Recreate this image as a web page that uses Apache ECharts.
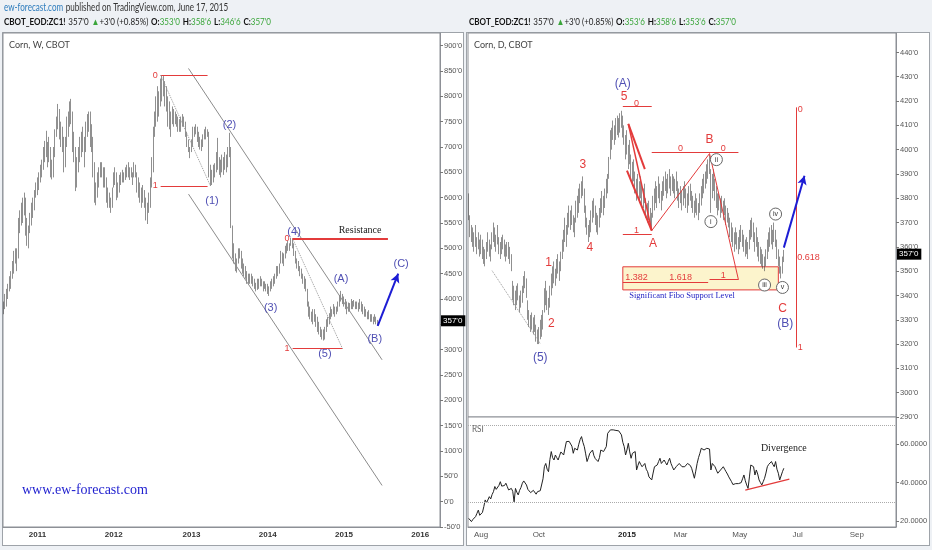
<!DOCTYPE html>
<html><head><meta charset="utf-8">
<script src="https://cdn.jsdelivr.net/npm/echarts/dist/echarts.min.js"></script>
<style>
html,body{margin:0;padding:0;background:#eef1f5;}
#wrap{position:relative;width:932px;height:550px;overflow:hidden;background:#eef1f5;}
.panel{position:absolute;background:#fff;border:1px solid #9ea3a9;box-sizing:border-box;}
#chart{position:absolute;left:0;top:0;width:932px;height:550px;}
</style></head>
<body><div id="wrap">
<div class="panel" style="left:2px;top:32px;width:462px;height:514px"></div>
<div class="panel" style="left:466px;top:32px;width:464px;height:514px"></div>
<div id="chart"></div></div>
<script>
// ---------- weekly chart (left) ----------
const weeklyStart = '2010-07-26';
const weeklyEnd = '2016-04-04';
const weeklyTickYears = ['2011','2012','2013','2014','2015','2016'];
const weeklyLow = [
370,380,385,400,415,420,440,450,470,455,
480,530,545,550,565,525,505,500,530,545,
560,575,600,605,615,630,640,655,670,680,
660,670,640,636,640,680,720,735,715,700,
690,650,660,700,720,740,745,690,670,613,
620,650,670,680,690,660,690,720,730,700,
690,640,590,585,600,620,640,640,620,620,
590,580,580,570,580,620,625,595,600,610,
625,630,630,635,640,640,635,640,625,640,
640,610,600,590,580,590,580,555,548,570,
580,620,650,720,740,750,760,780,790,800,
780,770,740,735,720,745,740,745,740,730,
730,730,740,740,720,700,690,678,690,700,
720,725,710,700,695,692,700,715,715,720,
640,623,625,630,640,650,655,645,640,650,
645,655,650,660,680,540,480,470,455,452,
470,480,460,450,445,440,430,430,430,430,
425,420,415,418,420,425,425,415,420,415,
410,406,415,420,425,430,440,445,450,470,
470,465,480,490,495,495,505,500,485,470,
460,455,445,440,430,420,415,385,365,360,
355,350,355,345,335,330,325,320,318,320,
335,345,350,360,365,370,365,370,375,385,
395,390,385,380,370,375,375,380,380,385,
380,380,375,380,375,370,365,365,360,360,
355,355,350,355,350,347];
const weeklyHigh = [
395,410,420,430,445,455,475,495,500,500,
560,575,590,600,610,600,560,545,570,590,
600,615,630,640,650,665,675,700,712,732,
710,720,700,675,700,735,760,785,775,750,
740,720,720,760,770,790,795,770,730,700,
680,700,720,730,740,720,750,765,770,770,
745,720,670,630,650,660,670,670,660,660,
640,620,610,600,620,650,660,650,630,645,
650,655,650,660,665,670,660,660,650,670,
665,650,640,630,620,625,615,600,590,610,
640,680,740,770,800,820,810,835,842,840,
830,820,800,790,770,780,775,770,765,760,
755,760,765,760,750,730,715,700,715,740,
740,745,740,730,720,715,725,735,740,735,
730,665,655,665,668,690,718,680,675,685,
680,690,685,700,728,700,545,510,490,480,
500,500,495,480,470,465,455,450,450,450,
445,440,432,440,440,445,440,435,435,430,
430,425,435,440,445,450,465,465,470,495,
492,490,505,510,515,510,521,519,510,495,
480,475,465,460,450,445,440,420,395,385,
375,380,380,370,365,355,345,340,340,345,
360,365,372,385,380,390,385,385,395,408,
416,410,405,400,395,393,392,400,396,398,
395,395,393,400,395,390,385,380,375,378,
370,370,365,370,365,358.75];
// wave labels on weekly chart: [text, week index, price]
const weeklyWaveLabels = [['(1)',142,594],['(2)',154,744],['(3)',182,383],['(4)',198,533],['(5)',219,291],['(A)',230,440],['(B)',253,321],['(C)',271,469]];

// ---------- daily chart (right) ----------
const dailyStart = '2014-07-21';
const dailyEnd = '2015-10-12';
const dailyHolidays = ['2014-09-01','2014-11-27','2014-12-25','2015-01-01','2015-01-19','2015-02-16','2015-04-03','2015-05-25','2015-07-03','2015-09-07'];
const dailyTickMonths = ['2014-08','2014-10','2015-01','2015-03','2015-05','2015-07','2015-09'];
const monthNames = ['Jan','Feb','Mar','Apr','May','Jun','Jul','Aug','Sep','Oct','Nov','Dec'];
const dailyLow = [
371,364,362,360,358,360,357,359,356,357,
355,353,352,355,358,356,354,359,362,360,
358,361,357,355,357,359,356,354,356,355,
353,350,338,336,334,336,338,333,335,337,
341,343,339,330,327,325,326,324,325,321,
320,320,322,323,326,333,336,334,332,335,
340,343,345,344,347,349,346,350,355,358,
362,360,365,368,367,369,366,364,370,372,
374,378,380,381,374,368,365,362,364,366,
370,372,369,366,365,368,372,374,373,376,
380,382,388,396,400,404,402,404,406,405,
407,409,405,402,396,398,392,394,388,385,
387,382,379,381,378,380,377,376,378,372,
370,371,369,367,372,375,378,376,380,378,
375,379,381,383,380,382,384,381,383,382,
380,383,379,376,378,375,377,380,376,374,
377,379,376,374,372,374,373,371,374,377,
380,382,384,386,388,390,374,380,383,379,
376,373,375,372,374,371,373,369,370,368,
364,362,360,358,361,359,357,359,362,360,
358,356,357,355,359,363,364,362,358,360,
356,354,353,352,351,350,352,355,358,360,
361,359,362,360,355,352,349,347,349,353.75];
const dailyHigh = [
382,373,369,368,366,369,364,366,363,365,
363,360,359,362,366,363,361,366,370,368,
365,369,364,362,364,365,363,361,362,362,
360,357,346,344,342,344,345,340,342,344,
348,350,347,338,334,332,333,331,332,328,
326,327,330,332,334,343,346,342,339,344,
349,352,354,351,355,357,354,358,363,367,
372,369,374,377,375,377,373,372,379,381,
384,386,387,389,384,377,372,369,371,375,
379,380,377,374,373,376,380,383,381,384,
388,390,397,408,409,412,410,413,414,413,
415,416,414,410,406,408,402,404,398,395,
396,391,388,390,387,389,386,384,386,380,
378,379,376,374,381,384,387,385,389,386,
383,387,389,391,388,390,392,389,390,389,
388,391,387,384,385,383,385,387,384,382,
385,386,383,381,379,382,380,378,382,385,
388,390,391,394,396,398,392,390,392,388,
385,382,382,380,381,379,380,377,376,374,
372,370,368,366,368,366,364,367,369,367,
365,363,364,362,367,371,372,370,366,368,
364,362,360,359,357,356,359,363,366,368,
369,367,370,367,363,359,356,352,356,358.75];
const dailyRSI = [
21.4,20.5,19.7,20.8,21.5,22.3,24.0,25.7,23.0,22.6,
24.5,27.5,31.0,29.5,29.2,32.7,31.5,33.8,35.3,38.0,
36.5,37.0,38.6,40.5,38.2,37.6,38.5,39.7,38.0,36.2,
36.8,37.0,35.5,30.0,37.0,35.0,33.6,36.0,37.5,39.7,
40.9,40.0,38.8,36.5,35.5,34.8,34.4,36.0,35.0,34.0,
35.3,34.6,35.8,36.2,42.0,48.3,50.0,47.0,45.7,52.0,
56.2,53.0,51.8,54.4,53.0,51.8,54.0,56.0,55.0,54.4,
58.0,61.4,62.3,61.5,62.3,59.0,55.3,57.9,57.5,57.0,
60.0,62.5,64.0,61.0,58.8,55.0,51.0,53.0,55.3,56.0,
57.0,54.0,52.5,51.8,51.0,53.0,57.0,56.5,56.2,57.5,
58.8,65.7,66.5,67.5,67.0,67.5,66.8,67.2,67.8,67.0,
66.6,64.9,61.0,58.8,54.4,57.0,60.5,56.0,52.7,55.3,
56.0,56.2,46.6,49.0,51.0,49.5,48.3,49.0,50.0,47.0,
45.7,43.0,42.0,41.4,45.0,48.3,49.0,49.2,51.0,52.7,
50.0,51.0,51.8,50.5,49.2,51.0,52.7,50.0,48.3,46.6,
47.5,48.5,49.2,50.0,49.0,48.3,48.8,48.3,49.0,50.0,
51.0,49.0,47.5,45.0,42.3,46.0,50.0,53.0,55.3,57.9,
57.0,57.0,57.5,57.9,57.0,57.5,46.6,50.0,51.0,48.3,
46.5,44.9,45.5,46.6,47.5,48.3,47.0,45.7,44.5,43.0,
42.0,40.5,39.0,38.0,39.5,40.5,39.5,38.8,40.0,42.0,
44.0,41.0,38.8,37.0,43.0,49.2,48.5,48.3,44.0,46.6,
44.5,41.4,40.0,38.8,40.5,42.3,45.0,48.3,49.5,50.0,
51.0,49.5,48.3,51.0,47.0,44.9,41.4,40.6,45.7,47.5];
// annotations on daily chart: [text, day index, price]
const dailyRedLabels = [['1',58,353.5],['2',60,328.4],['3',83,393.8],['4',88,359.8],['5',113,421.8],['A',134,361.4],['B',175,404],['C',228,334.4]];
const dailyBlueLabels = [['(A)',112,427],['(5)',52,314.5],['(B)',230,328.3]];
const dailyFibText = [['0',122,419],['1',122,366.6],['0',154,400.4],['0',185,400.4],['1.382',122,347.3],['1.618',154,347.5],['1',185,348.3],['0',241,416.5],['0.618',247,355.6],['1',241,318.5]];
const dailyCircleLabels = [['i',176,370.4],['ii',180,395.9],['iii',215,344.3],['iv',223,373.5],['v',228,343.3]];
const lastPrice = 357;

// ---------- categories ----------
function isoDay(d){return d.toISOString().slice(0,10);}
function weeklyCats(){const out=[];const d=new Date(weeklyStart+'T00:00:00Z');while(isoDay(d)<=weeklyEnd){out.push(isoDay(d));d.setUTCDate(d.getUTCDate()+7);}return out;}
function dailyCats(){const out=[];const d=new Date(dailyStart+'T00:00:00Z');while(isoDay(d)<=dailyEnd){const wd=d.getUTCDay();const s=isoDay(d);if(wd!==0&&wd!==6&&dailyHolidays.indexOf(s)<0)out.push(s);d.setUTCDate(d.getUTCDate()+1);}return out;}
const wCats = weeklyCats();
const dCats = dailyCats();

const RED='#e33b3b', WAVE='#5050b4', ARROW='#1d1dd4', CH='#8c8c8c', AX='#8d9096', LBL='#555';
const SANS="'Liberation Sans', Arial, sans-serif";
const SERIF="'Liberation Serif', 'Times New Roman', serif";
const HDR="Lato, 'Liberation Sans', sans-serif";

function seg(a,b,color,width,type,extra){
  const p0 = Object.assign({coord:a, symbol:'none', lineStyle:{color:color,width:width,type:type||'solid'}}, extra||{});
  return [p0, {coord:b, symbol:'none'}];
}
function arrowSeg(a,b){
  return [{coord:a, symbol:'none', lineStyle:{color:ARROW,width:2,type:'solid'}}, {coord:b, symbol:'arrow', symbolSize:[7,9]}];
}
function fibLabel(t){return {label:{show:true,position:'start',formatter:t,color:RED,fontSize:9,distance:3,fontFamily:SANS}};}
function textPt(t,idx,val,color,size,family,weight){
  return {name:t, coord:[idx,val], symbol:'rect', symbolSize:1, itemStyle:{color:'rgba(0,0,0,0)'},
    label:{show:true, position:'inside', formatter:t, color:color, fontSize:size, fontFamily:family||SANS, fontWeight:weight||'normal'}};
}
function circlePt(t,idx,val){
  return {name:t, coord:[idx,val], symbol:'circle', symbolSize:12, itemStyle:{color:'#fff',borderColor:'#666',borderWidth:1},
    label:{show:true, position:'inside', formatter:t, color:'#333', fontSize:7, fontFamily:SANS}};
}
function priceTag(v){
  return {yAxis:v, lineStyle:{color:'rgba(0,0,0,0)', width:0, type:'solid'}, label:{show:true, position:'end', formatter:v+"'0", backgroundColor:'#000', color:'#fff', padding:[2,3,1,2], fontSize:8, distance:1, fontFamily:SANS}};
}
const candleStyle={color:'#555',color0:'#555',borderColor:'#444',borderColor0:'#444',borderWidth:0.6};

const wCandles = weeklyLow.map((lo,i)=>[lo, weeklyHigh[i], lo, weeklyHigh[i]]);
const dCandles = dailyLow.map((lo,i)=>[lo, dailyHigh[i], lo, dailyHigh[i]]);

const yLabel = {fontSize:7.5, color:LBL, margin:4, fontFamily:SANS};

const option = {
  animation:false,
  backgroundColor:'transparent',
  grid:[
    {left:3, top:33, width:437, height:494, show:true, backgroundColor:'#fff', borderColor:AX, borderWidth:1, containLabel:false, outerBoundsMode:'none'},
    {left:468, top:33, width:428, height:384, show:true, backgroundColor:'#fff', borderColor:AX, borderWidth:1, containLabel:false, outerBoundsMode:'none'},
    {left:468, top:417, width:428, height:110, show:true, backgroundColor:'#fff', borderColor:AX, borderWidth:1, containLabel:false, outerBoundsMode:'none'}
  ],
  xAxis:[
    {type:'category', gridIndex:0, data:wCats, boundaryGap:true,
     axisLine:{show:true, onZero:false, lineStyle:{color:AX}}, axisTick:{show:false}, splitLine:{show:false},
     axisLabel:{show:true, interval:function(i,v){return v.slice(5,7)==='01' && (i===0 || wCats[i-1].slice(0,4)!==v.slice(0,4)) && weeklyTickYears.indexOf(v.slice(0,4))>=0;},
       formatter:function(v){return v.slice(0,4);}, fontSize:8, fontWeight:'bold', color:'#333', margin:4, fontFamily:SANS}},
    {type:'category', gridIndex:1, data:dCats, boundaryGap:true,
     axisLine:{show:false, onZero:false}, axisTick:{show:false}, axisLabel:{show:false}, splitLine:{show:false}},
    {type:'category', gridIndex:2, data:dCats, boundaryGap:true,
     axisLine:{show:true, onZero:false, lineStyle:{color:AX}}, axisTick:{show:false}, splitLine:{show:false},
     axisLabel:{show:true, interval:function(i,v){return dailyTickMonths.indexOf(v.slice(0,7))>=0 && (i===0 || dCats[i-1].slice(0,7)!==v.slice(0,7));},
       formatter:function(v){const m=+v.slice(5,7);return m===1?'{yr|'+v.slice(0,4)+'}':monthNames[m-1];},
       rich:{yr:{fontWeight:'bold', color:'#222', fontSize:8, fontFamily:SANS}},
       fontSize:8, color:LBL, margin:4, fontFamily:SANS}}
  ],
  yAxis:[
    {type:'value', gridIndex:0, position:'right', min:-50, max:925, interval:50,
     axisLine:{show:true, onZero:false, lineStyle:{color:AX}}, axisTick:{show:true, length:3, lineStyle:{color:'#777'}}, splitLine:{show:false},
     axisLabel:Object.assign({formatter:function(v){return v+"'0";}, showMaxLabel:false}, yLabel)},
    {type:'value', gridIndex:1, position:'right', min:290, max:448, interval:10,
     axisLine:{show:true, onZero:false, lineStyle:{color:AX}}, axisTick:{show:true, length:3, lineStyle:{color:'#777'}}, splitLine:{show:false},
     axisLabel:Object.assign({formatter:function(v){return v+"'0";}, showMaxLabel:false}, yLabel)},
    {type:'value', gridIndex:2, position:'right', min:16.9, max:74.2, splitNumber:3,
     axisLine:{show:true, onZero:false, lineStyle:{color:AX}}, axisTick:{show:true, length:3, lineStyle:{color:'#777'}}, splitLine:{show:false},
     axisLabel:Object.assign({formatter:function(v){return v.toFixed(4);}, showMinLabel:false, showMaxLabel:false}, yLabel)}
  ],
  series:[
    {type:'candlestick', name:'Corn W', xAxisIndex:0, yAxisIndex:0, data:wCandles, barWidth:1, itemStyle:candleStyle, z:3,
     markLine:{silent:true, symbol:['none','none'], label:{show:false}, animation:false, data:[
       seg([126,855],[258,280],CH,1),
       seg([126,607],[258,32],CH,1),
       seg([107,842],[139,842],RED,1,'solid',fibLabel('0')),
       seg([107,623],[139,623],RED,1,'solid',fibLabel('1')),
       seg([107,842],[141,623],'#9a9a9a',1,'dotted'),
       seg([197,519],[231,519],RED,1,'solid',fibLabel('0')),
       seg([197,302],[231,302],RED,1,'solid',fibLabel('1')),
       seg([197,519],[231,302],'#9a9a9a',1,'dotted'),
       seg([197,519],[262,519],RED,2),
       arrowSeg([255,347],[269,450]),
       priceTag(lastPrice)
     ]},
     markPoint:{silent:true, animation:false, data:
       weeklyWaveLabels.map(a=>textPt(a[0],a[1],a[2],WAVE,11))
       .concat([textPt('Resistance',243,536,'#222',10,SERIF)])}
    },
    {type:'candlestick', name:'Corn D', xAxisIndex:1, yAxisIndex:1, data:dCandles, barWidth:1, itemStyle:candleStyle, z:3,
     markArea:{silent:true, data:[[{coord:[112,351.8], itemStyle:{color:'#fcf4cc', borderColor:RED, borderWidth:1}},{coord:[225,342.3]}]]},
     markLine:{silent:true, symbol:['none','none'], label:{show:false}, animation:false, data:[
       seg([17,350.2],[52,320.2],'#9a9a9a',1,'dotted'),
       seg([112,417.7],[133,417.7],RED,1),
       seg([112,365.3],[133,365.3],RED,1),
       seg([133,398.9],[196,398.9],RED,1),
       seg([238,417.4],[238,318.6],RED,1),
       seg([112,345.4],[174,345.4],RED,1),
       seg([175,346.5],[196,346.5],RED,1),
       seg([133,366.7],[175,398.4],RED,1),
       seg([175,398.4],[196,346.5],RED,1),
       seg([116,410.6],[128,392],RED,2),
       seg([115,391.4],[133,366.7],RED,2),
       seg([116,410.6],[133,366.7],RED,1.5),
       arrowSeg([229,359.7],[244,389.3]),
       priceTag(lastPrice)
     ]},
     markPoint:{silent:true, animation:false, data:
       dailyRedLabels.map(a=>textPt(a[0],a[1],a[2],RED,12))
       .concat(dailyBlueLabels.map(a=>textPt(a[0],a[1],a[2],WAVE,12)))
       .concat(dailyFibText.map(a=>textPt(a[0],a[1],a[2],RED,9)))
       .concat(dailyCircleLabels.map(a=>circlePt(a[0],a[1],a[2])))
       .concat([textPt('Significant Fibo Support Level',155,339.9,'#2424c4',8.5,SERIF)])}
    },
    {type:'line', name:'RSI', xAxisIndex:2, yAxisIndex:2, data:dailyRSI, symbol:'none', showSymbol:false,
     lineStyle:{color:'#222', width:1}, itemStyle:{color:'#222'}, z:3,
     markLine:{silent:true, symbol:['none','none'], label:{show:false}, animation:false, data:[
       {yAxis:70, lineStyle:{color:'#aaa', type:'dotted', width:1}},
       {yAxis:30, lineStyle:{color:'#aaa', type:'dotted', width:1}},
       seg([201,36.1],[233,41.8],RED,1.2)
     ]},
     markPoint:{silent:true, animation:false, data:[textPt('Divergence',229,57.8,'#222',10,SERIF)]}
    }
  ],
  graphic:[
    {type:'text', left:4, top:2, scaleX:0.77, silent:true, style:{
      text:'{u|ew-forecast.com} {n|published on TradingView.com, June 17, 2015}',
      rich:{u:{fill:'#2f7dbd', fontSize:10.5, fontFamily:HDR}, n:{fill:'#333', fontSize:10.5, fontFamily:HDR}}}},
    {type:'text', left:4, top:16, scaleX:0.845, silent:true, style:{
      text:"{b|CBOT_EOD:ZC1!} {n|357'0} {g|▲}{n|+3'0 (+0.85%)} {b|O:}{g|353'0} {b|H:}{g|358'6} {b|L:}{g|346'6} {b|C:}{g|357'0}",
      rich:{b:{fill:'#111', fontWeight:'bold', fontSize:9.5, fontFamily:HDR},
            n:{fill:'#222', fontSize:9.5, fontFamily:HDR},
            g:{fill:'#3aa53a', fontSize:9.5, fontFamily:HDR}}}},
    {type:'text', left:469, top:16, scaleX:0.845, silent:true, style:{
      text:"{b|CBOT_EOD:ZC1!} {n|357'0} {g|▲}{n|+3'0 (+0.85%)} {b|O:}{g|353'6} {b|H:}{g|358'6} {b|L:}{g|353'6} {b|C:}{g|357'0}",
      rich:{b:{fill:'#111', fontWeight:'bold', fontSize:9.5, fontFamily:HDR},
            n:{fill:'#222', fontSize:9.5, fontFamily:HDR},
            g:{fill:'#3aa53a', fontSize:9.5, fontFamily:HDR}}}},
    {type:'text', left:9, top:40, scaleX:0.9, silent:true, style:{text:'Corn, W, CBOT', fill:'#444', fontSize:10, fontFamily:HDR}},
    {type:'text', left:474, top:40, scaleX:0.9, silent:true, style:{text:'Corn, D, CBOT', fill:'#444', fontSize:10, fontFamily:HDR}},
    {type:'text', left:472, top:425, scaleX:0.9, silent:true, style:{text:'RSI', fill:'#666', fontSize:9, fontFamily:HDR}},
    {type:'text', left:22, top:483, silent:true, style:{text:'www.ew-forecast.com', fill:'#1f1fcf', fontSize:14, fontFamily:SERIF}}
  ]
};
const chart = echarts.init(document.getElementById('chart'), null, {renderer:'canvas', width:932, height:550});
chart.setOption(option);
</script>
</body></html>
